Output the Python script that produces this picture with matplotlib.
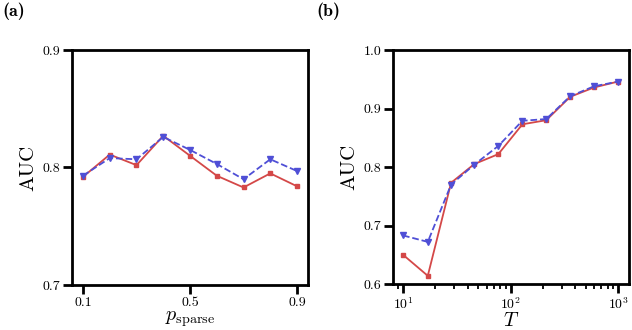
import numpy as np
import matplotlib
matplotlib.use("Agg")
import matplotlib.pyplot as plt

plt.rcParams['font.family'] = ['cmr10', 'DejaVu Sans']
plt.rcParams['mathtext.fontset'] = 'cm'
plt.rcParams['axes.formatter.use_mathtext'] = True
plt.rcParams['axes.unicode_minus'] = False

# Panel (a) data
p_sparse = [0.1, 0.2, 0.3, 0.4, 0.5, 0.6, 0.7, 0.8, 0.9]
auc_a_red = [0.792, 0.811, 0.802, 0.827, 0.810, 0.793, 0.783, 0.795, 0.784]
auc_a_blue = [0.793, 0.808, 0.807, 0.826, 0.815, 0.803, 0.790, 0.807, 0.797]
xticks_a = [0.1, 0.5, 0.9]
yticks_a = [0.7, 0.8, 0.9]

# Panel (b) data
T_vals = [10, 17, 28, 46, 77, 129, 215, 359, 599, 1000]
auc_b_red = [0.650, 0.614, 0.773, 0.805, 0.822, 0.873, 0.880, 0.920, 0.936, 0.946]
auc_b_blue = [0.683, 0.672, 0.770, 0.804, 0.836, 0.879, 0.882, 0.921, 0.938, 0.946]
yticks_b = [0.6, 0.7, 0.8, 0.9, 1.0]

red = '#d44848'
blue = '#4f4fd6'

fig = plt.figure(figsize=(6.32, 3.30), dpi=100)
axa = fig.add_axes([72/632, 1-285/330, 236/632, 235/330])
axb = fig.add_axes([393/632, 1-284/330, 236/632, 234/330])

def style(ax):
    for s in ax.spines.values():
        s.set_linewidth(2.0)
    ax.tick_params(which='major', direction='out', length=6.5, width=2.0, labelsize=10, pad=2)
    ax.tick_params(which='minor', direction='out', length=3.5, width=1.3)

axa.plot(p_sparse, auc_a_red, '-', color=red, lw=1.3, marker='s', ms=3.5, zorder=3)
axa.plot(p_sparse, auc_a_blue, '--', color=blue, lw=1.3, marker='v', ms=4.5, zorder=4)
axa.set_xlim(0.059, 0.941)
axa.set_ylim(0.7, 0.9)
axa.set_xticks(xticks_a)
axa.set_xticklabels([f'{v:.1f}' for v in xticks_a])
axa.set_yticks(yticks_a)
axa.set_yticklabels([f'{v:.1f}' for v in yticks_a])
axa.set_xlabel(r'$p_{\rm sparse}$', fontsize=14.5, labelpad=0)
axa.set_ylabel('AUC', fontsize=15, labelpad=4)
style(axa)

axb.plot(T_vals, auc_b_red, '-', color=red, lw=1.3, marker='s', ms=3.5, zorder=3)
axb.plot(T_vals, auc_b_blue, '--', color=blue, lw=1.3, marker='v', ms=4.5, zorder=4)
axb.set_xscale('log')
axb.set_xlim(8.07, 1265)
axb.set_ylim(0.6, 1.0)
axb.set_yticks(yticks_b)
axb.set_yticklabels([f'{v:.1f}' for v in yticks_b])
axb.set_xlabel(r'$T$', fontsize=14.5, labelpad=0)
axb.set_ylabel('AUC', fontsize=15, labelpad=4)
style(axb)

fig.text(2/632, 1-2/330, '(a)', fontsize=13, family='cmb10', va='top', ha='left')
fig.text(316/632, 1-2/330, '(b)', fontsize=13, family='cmb10', va='top', ha='left')

fig.savefig('out.png', dpi=100)
